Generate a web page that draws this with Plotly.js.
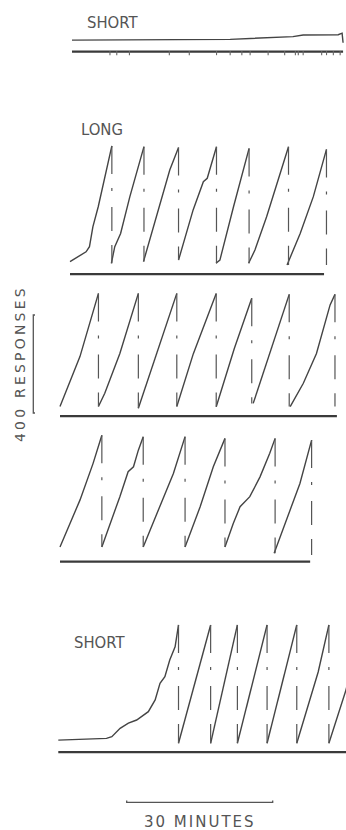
<!DOCTYPE html>
<html><head><meta charset="utf-8">
<script src="https://cdn.plot.ly/plotly-3.0.1.min.js"></script>
<style>
html,body{margin:0;padding:0;background:#fff;}
text[data-unformatted="30 MINUTES"]{letter-spacing:2px;}
text[data-unformatted="400 RESPONSES"]{letter-spacing:3.2px;}
</style></head>
<body><div id="chart" style="width:346px;height:830px;"></div>
<script>
// ---------- DATA (time in minutes, cumulative responses on the pen) ----------
// Top "SHORT" record
const shortTopTime = [0, 16.0, 32.5, 45.4, 47.5, 54.7, 55.5, 55.7];
const shortTopResp = [16, 16, 19, 30, 37, 38, 44, 5];
const shortTopEventTicks = [7.8, 9.2, 11.8, 20.0, 24.1, 29.7, 32.5, 34.9, 36.6, 40.3, 43.7, 45.9, 46.5, 47.5, 51.3, 52.3, 53.7, 55.1];
const shortTopEventSpan = [0, 55.7];

// "LONG" record, row 1
const longRow1Time = [0, 1.7, 3.3, 4.0, 4.7, 5.8, 7.2, 8.6,
  8.5, 9.2, 10.4, 12.3, 15.2,
  15.1, 17.5, 20.5, 22.3,
  22.3, 25.3, 27.4, 28.2, 30.1,
  30.0, 30.8, 33.6, 36.8,
  36.7, 38.0, 40.4, 42.8, 44.9,
  44.6, 47.3, 50.0, 52.7,
  52.7];
const longRow1Resp = [18, 38, 58, 79, 160, 242, 365, 490,
  11, 79, 133, 283, 487,
  18, 188, 392, 484,
  24, 229, 344, 358, 487,
  11, 24, 242, 480,
  11, 65, 201, 351, 487,
  4, 133, 283, 476,
  4];
const longRow1EventSpan = [0, 52.2];

// "LONG" record, row 2
const longRow2Time = [0, 4.1, 7.9,
  7.9, 9.2, 12.3, 16.1,
  16.1, 19.2, 24.0,
  24.0, 27.4, 32.1,
  32.1, 35.8, 39.4,
  39.7, 43.3, 47.1,
  47.3, 50.0, 52.7, 54.8, 55.5, 56.5,
  56.5];
const longRow2Resp = [14, 218, 476,
  14, 68, 231, 476,
  7, 190, 476,
  14, 230, 476,
  13, 250, 456,
  27, 245, 472,
  14, 109, 231, 381, 429, 472,
  14];
const longRow2EventSpan = [0, 56.9];

// "LONG" record, row 3
const longRow3Time = [0, 4.1, 6.8, 8.6,
  8.6, 9.6, 12.3, 14.0, 15.1, 16.1, 17.1,
  17.1, 19.9, 23.3, 25.7,
  25.7, 28.8, 31.5, 33.9,
  33.9, 35.6, 37.0, 39.0, 41.1, 43.1, 44.2,
  44.0, 46.6, 49.3, 51.7,
  51.7];
const longRow3Resp = [33, 224, 374, 489,
  33, 88, 238, 340, 360, 428, 483,
  33, 170, 333, 483,
  33, 197, 360, 476,
  33, 129, 197, 238, 319, 415, 476,
  7, 143, 292, 469,
  0];
const longRow3EventSpan = [0, 51.4];

// Bottom "SHORT" record
const shortBottomTime = [0, 9.9, 11.0, 12.7, 14.4, 16.1, 18.5, 19.9, 20.9, 21.9, 22.9, 24.0, 24.7,
  24.7, 31.3,
  31.3, 36.8,
  36.8, 42.9,
  42.9, 49.0,
  49.0, 51.7, 53.4, 55.6,
  55.6, 59.1, 60.5];
const shortBottomResp = [20, 27, 34, 68, 89, 102, 136, 184, 252, 279, 347, 401, 490,
  7, 490,
  7, 490,
  7, 490,
  7, 490,
  7, 184, 298, 490,
  7, 224, 330];
const shortBottomEventSpan = [0, 60.5];

// Calibration bars
const scaleMinutes = 30;
const scaleResponses = 400;
const labels = ['SHORT', 'LONG', 'SHORT', '400 RESPONSES', '30 MINUTES'];

// ---------- LAYOUT / STYLE ----------
const W = 346, H = 830;
const PXM = 146 / 30;   // pixels per minute
const PXR = 98 / 400;   // pixels per response
const INK = '#444';

const panels = [
  {t: shortTopTime, r: shortTopResp, ev: shortTopEventSpan, x0: 72, pen0: 44, top: 0, bottom: 90, evLevel: -31},
  {t: longRow1Time, r: longRow1Resp, ev: longRow1EventSpan, x0: 70, pen0: 266, top: 90, bottom: 280, evLevel: -33},
  {t: longRow2Time, r: longRow2Resp, ev: longRow2EventSpan, x0: 60, pen0: 410, top: 280, bottom: 420, evLevel: -25},
  {t: longRow3Time, r: longRow3Resp, ev: longRow3EventSpan, x0: 60, pen0: 555, top: 420, bottom: 580, evLevel: -27},
  {t: shortBottomTime, r: shortBottomResp, ev: shortBottomEventSpan, x0: 58.3, pen0: 745, top: 580, bottom: 830, evLevel: -29}
];

const traces = [];
const layout = {
  width: W, height: H, margin: {l: 0, r: 0, t: 0, b: 0},
  paper_bgcolor: '#fff', plot_bgcolor: 'rgba(0,0,0,0)', showlegend: false,
  annotations: []
};

function split(t, r) {
  const xs = [], ys = [], rx = [], ry = [];
  for (let i = 0; i < t.length; i++) {
    xs.push(t[i]); ys.push(r[i]);
    if (i < t.length - 1 && r[i + 1] < r[i] - 100) {
      xs.push(null); ys.push(null);
      rx.push(t[i], t[i], null); ry.push(r[i], r[i + 1], null);
    }
  }
  return {xs, ys, rx, ry};
}

panels.forEach((p, idx) => {
  const k = idx + 1;
  const sfx = k === 1 ? '' : String(k);
  const xr = 'x' + sfx, yr = 'y' + sfx;
  layout['xaxis' + sfx] = {domain: [0, 1], range: [-p.x0 / PXM, (W - p.x0) / PXM], visible: false, fixedrange: true, anchor: yr};
  layout['yaxis' + sfx] = {domain: [1 - p.bottom / H, 1 - p.top / H], range: [(p.pen0 - p.bottom) / PXR, (p.pen0 - p.top) / PXR], visible: false, fixedrange: true, anchor: xr};
  const s = split(p.t, p.r);
  traces.push({x: s.xs, y: s.ys, xaxis: xr, yaxis: yr, mode: 'lines', line: {color: INK, width: 1.4}, hoverinfo: 'skip'});
  if (s.rx.length) {
    traces.push({x: s.rx, y: s.ry, xaxis: xr, yaxis: yr, mode: 'lines', line: {color: '#555', width: 1.2, dash: '28px,14px,3px,16px,24px,14px,24px'}, hoverinfo: 'skip'});
  }
  traces.push({x: p.ev, y: [p.evLevel, p.evLevel], xaxis: xr, yaxis: yr, mode: 'lines', line: {color: '#3a3a3a', width: 2.4}, hoverinfo: 'skip'});
  if (k === 1) {
    traces.push({x: shortTopEventTicks, y: shortTopEventTicks.map(() => p.evLevel - 6), xaxis: xr, yaxis: yr, mode: 'markers',
      marker: {symbol: 'line-ns', size: 3, color: '#666', line: {width: 1.1, color: '#666'}}, hoverinfo: 'skip'});
  }
});

// 400-responses calibration bar (on row-2 axes)
const rb = panels[2];
const rbT = (33.3 - rb.x0) / PXM, rbR = (rb.pen0 - 413) / PXR;
traces.push({x: [rbT + 0.35, rbT, rbT, rbT + 0.35], y: [rbR + scaleResponses, rbR + scaleResponses, rbR, rbR],
  xaxis: 'x3', yaxis: 'y3', mode: 'lines', line: {color: '#555', width: 1.3}, hoverinfo: 'skip'});

// 30-minute calibration bar (on bottom axes)
const mb = panels[4];
const mbT = (126.7 - mb.x0) / PXM, mbR = (mb.pen0 - 802.3) / PXR;
traces.push({x: [mbT, mbT, mbT + scaleMinutes, mbT + scaleMinutes], y: [mbR + 7, mbR, mbR, mbR + 7],
  xaxis: 'x5', yaxis: 'y5', mode: 'lines', line: {color: '#555', width: 1.3}, hoverinfo: 'skip'});

const narrow = {family: 'Liberation Sans Narrow, DejaVu Sans Condensed, Arial Narrow, sans-serif', size: 16.5, color: '#555'};
const wide = {family: 'DejaVu Sans, Verdana, sans-serif', size: 14, color: '#555'};
layout.annotations = [
  {text: labels[0], xref: 'paper', yref: 'paper', x: 85 / W, y: 1 - 22.5 / H, xanchor: 'left', yanchor: 'middle', showarrow: false, font: narrow},
  {text: labels[1], xref: 'paper', yref: 'paper', x: 79 / W, y: 1 - 129 / H, xanchor: 'left', yanchor: 'middle', showarrow: false, font: narrow},
  {text: labels[2], xref: 'paper', yref: 'paper', x: 72 / W, y: 1 - 642 / H, xanchor: 'left', yanchor: 'middle', showarrow: false, font: narrow},
  {text: labels[3], xref: 'paper', yref: 'paper', x: 20 / W, y: 1 - 364 / H, xanchor: 'center', yanchor: 'middle', showarrow: false, textangle: -90, font: wide},
  {text: labels[4], xref: 'paper', yref: 'paper', x: 200 / W, y: 1 - 822 / H, xanchor: 'center', yanchor: 'middle', showarrow: false, font: Object.assign({}, wide, {size: 15})}
];

Plotly.newPlot('chart', traces, layout, {staticPlot: true, displayModeBar: false});
</script></body></html>
